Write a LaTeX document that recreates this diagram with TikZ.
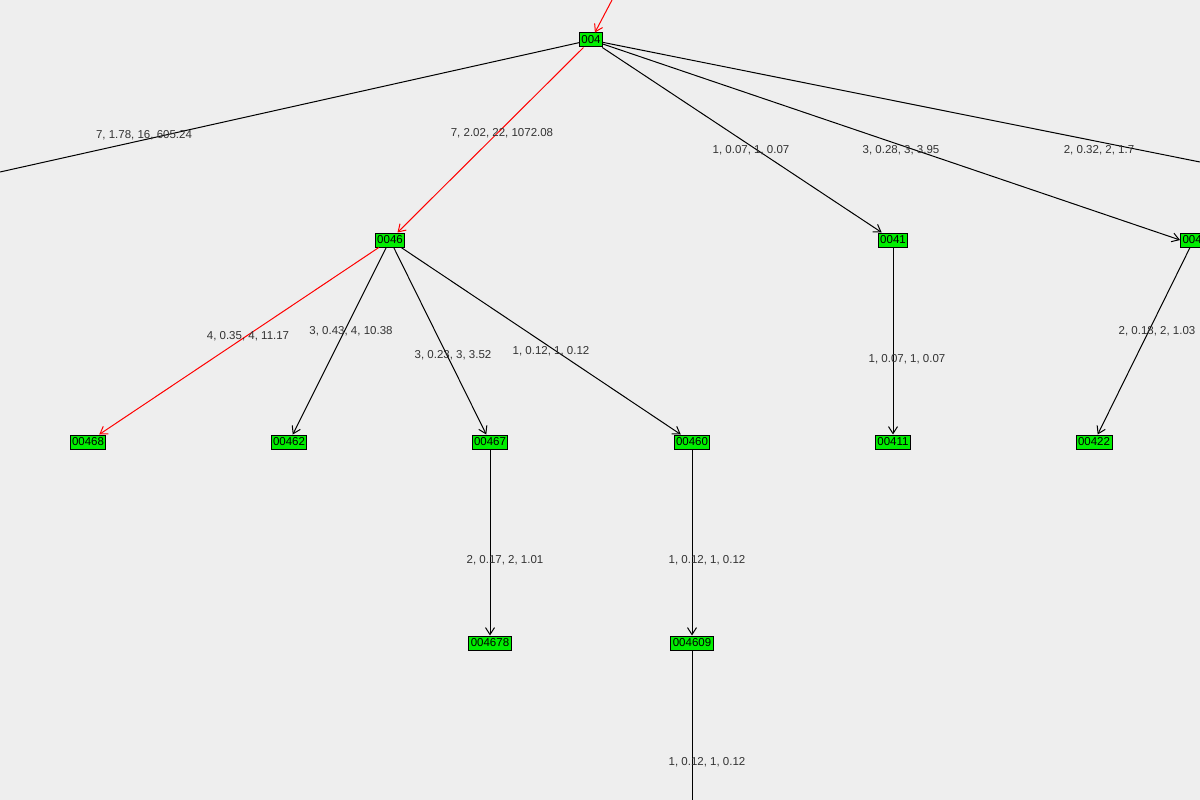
\documentclass[tikz,border=0pt]{standalone}
\usepackage{fontspec}
\setmainfont{Liberation Sans}
\usetikzlibrary{arrows.meta}
\definecolor{bg}{HTML}{EEEEEE}
\definecolor{ng}{HTML}{00EE00}
\begin{document}
\begin{tikzpicture}[x=1pt,y=-1pt,line width=1pt,
  nd/.style={draw=black,fill=ng,inner xsep=2pt,inner ysep=1pt,minimum height=14pt,font=\fontsize{11.5}{12}\selectfont},
  lb/.style={font=\fontsize{11.5}{12}\selectfont,text=black!80},
  ed/.style={draw=black,-{Straight Barb[length=7pt,width=9pt]}},
  red/.style={draw=red,-{Straight Barb[length=7pt,width=9pt]}}]
\useasboundingbox (0,0) rectangle (1200,800);
\clip (0,0) rectangle (1200,800);
\fill[bg] (0,0) rectangle (1200,800);
\coordinate (top) at (612,0);
\coordinate (lft) at (0,172);
\coordinate (rgt) at (1200,162);
\coordinate (bot) at (692,800);
\node[nd] (n004) at (591,40) {004};
\node[nd] (n0046) at (390,240) {0046};
\node[nd] (n0041) at (893,240) {0041};
\node[nd,anchor=west] (n0042) at (1180,240) {0042};
\node[nd] (n00468) at (88,442) {00468};
\node[nd] (n00462) at (289,442) {00462};
\node[nd] (n00467) at (490,442) {00467};
\node[nd] (n00460) at (692,442) {00460};
\node[nd] (n00411) at (893,442) {00411};
\node[nd] (n00422) at (1094,442) {00422};
\node[nd] (n004678) at (490,643) {004678};
\node[nd] (n004609) at (692,643) {004609};
\draw[red] (top) -- (n004);
\draw (n004) -- (lft);
\draw (n004) -- (rgt);
\draw[red] (n004) -- (n0046);
\draw[ed] (n004) -- (n0041);
\draw[ed] (n004) -- (n0042.west);
\draw[red] (n0046) -- (n00468);
\draw[ed] (n0046) -- (n00462);
\draw[ed] (n0046) -- (n00467);
\draw[ed] (n0046) -- (n00460);
\draw[ed] (n0041) -- (n00411);
\draw[ed] (n0042.south west) ++(10,0) -- (n00422);
\draw[ed] (n00467) -- (n004678);
\draw[ed] (n00460) -- (n004609);
\draw (n004609) -- (bot);
\node[lb] at (144,135) {7, 1.78, 16, 605.24};
\node[lb] at (502,133) {7, 2.02, 22, 1072.08};
\node[lb] at (751,150) {1, 0.07, 1, 0.07};
\node[lb] at (901,150) {3, 0.28, 3, 3.95};
\node[lb] at (1099,150) {2, 0.32, 2, 1.7};
\node[lb] at (248,336) {4, 0.35, 4, 11.17};
\node[lb] at (351,331) {3, 0.43, 4, 10.38};
\node[lb] at (453,355) {3, 0.23, 3, 3.52};
\node[lb] at (551,351) {1, 0.12, 1, 0.12};
\node[lb] at (907,359) {1, 0.07, 1, 0.07};
\node[lb] at (1157,331) {2, 0.18, 2, 1.03};
\node[lb] at (505,560) {2, 0.17, 2, 1.01};
\node[lb] at (707,560) {1, 0.12, 1, 0.12};
\node[lb] at (707,762) {1, 0.12, 1, 0.12};
\end{tikzpicture}
\end{document}
